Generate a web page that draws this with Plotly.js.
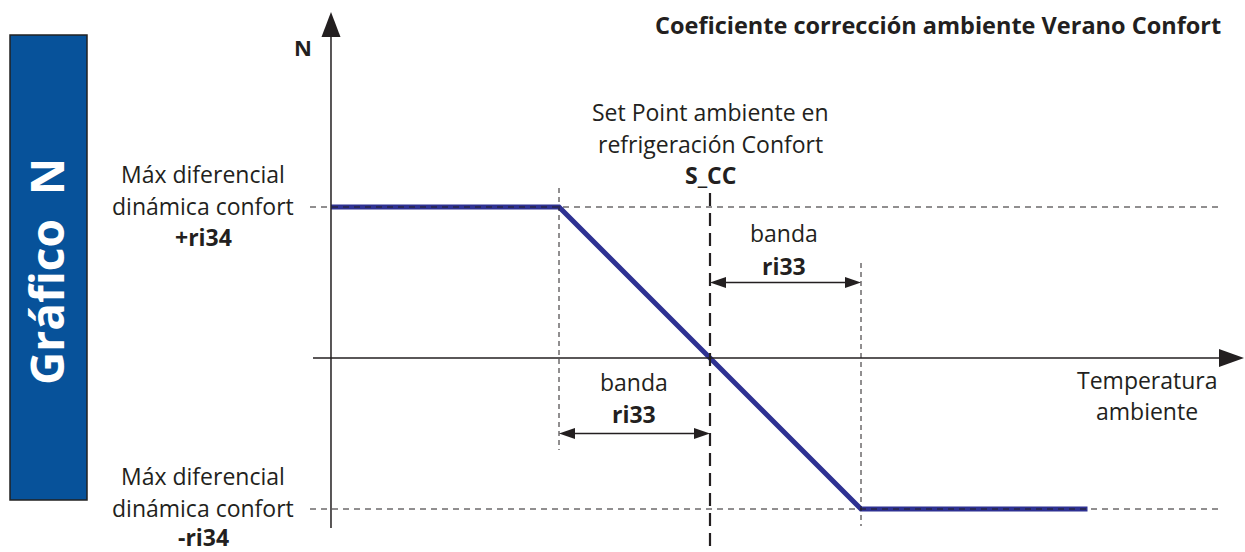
<!DOCTYPE html>
<html>
<head>
<meta charset="utf-8">
<script src="https://cdn.plot.ly/plotly-3.0.1.min.js"></script>
<style>
  body { margin: 0; background: #fff; }
  #chart { width: 1245px; height: 552px; }
</style>
</head>
<body>
<div id="chart"></div>
<script>
// units: set point S_CC at 0, band ri33 = 1, max differential ri34 = 1
var SP = 0;
var BAND = 1;
var RI34 = 1;

// N curve (temperature vs correction)
var curveX = [-2.51, -1, 1, 2.50];
var curveY = [1, 1, -1, -1];

var W = 1245, H = 552;
var PPU = 151;            // pixels per unit
var X0 = 710, Y0 = 358;   // pixel position of origin (S_CC, 0)

function ux(px) { return (px - X0) / PPU; }
function uy(py) { return (Y0 - py) / PPU; }
function len(p) { return p / PPU; }

var ink = '#231f20';
var blue = '#2e3192';

var axisX = curveX[0];

var trace = {
  x: curveX,
  y: curveY,
  mode: 'lines',
  type: 'scatter',
  line: {color: blue, width: 5},
  hoverinfo: 'skip'
};

function tri(tx, ty, dir, l, hw) {
  // filled triangle, tip at (tx,ty), dir: 'up','right','left'
  var L = len(l), h = len(hw), p;
  if (dir === 'up') p = 'M' + tx + ',' + ty + ' L' + (tx - h) + ',' + (ty - L) + ' L' + (tx + h) + ',' + (ty - L) + ' Z';
  if (dir === 'right') p = 'M' + tx + ',' + ty + ' L' + (tx - L) + ',' + (ty + h) + ' L' + (tx - L) + ',' + (ty - h) + ' Z';
  if (dir === 'left') p = 'M' + tx + ',' + ty + ' L' + (tx + L) + ',' + (ty + h) + ' L' + (tx + L) + ',' + (ty - h) + ' Z';
  return {type: 'path', xref: 'x', yref: 'y', path: p, fillcolor: ink, line: {width: 0}};
}

function seg(x0, y0, x1, y1, w, dash) {
  return {type: 'line', xref: 'x', yref: 'y', x0: x0, y0: y0, x1: x1, y1: y1,
    line: {color: ink, width: w, dash: dash || 'solid'}};
}

var yTip = uy(12), xTip = ux(1244);

var shapes = [
  // blue side box
  {type: 'rect', xref: 'paper', yref: 'paper', x0: 10 / W, x1: 87 / W, y0: 1 - 500 / H, y1: 1 - 35 / H,
    fillcolor: '#07529a', line: {color: '#222', width: 1.5}},
  // dashed levels +ri34 / -ri34
  seg(ux(310), RI34, ux(1221), RI34, 1, '6px,5px'),
  seg(ux(310), -RI34, ux(1221), -RI34, 1, '6px,5px'),
  // band limits
  seg(SP - BAND, uy(188), SP - BAND, uy(450), 1, '5px,4px'),
  seg(SP + BAND, uy(263), SP + BAND, uy(526), 1, '5px,4px'),
  // set point
  seg(SP, uy(193), SP, uy(552), 2.2, '13px,7px'),
  // axes
  seg(ux(313), 0, xTip - len(20), 0, 1.5),
  seg(axisX, uy(528), axisX, yTip - len(20), 1.5),
  tri(axisX, yTip, 'up', 25, 9.5),
  tri(xTip, 0, 'right', 25, 9),
  // band arrows
  seg(SP + len(10), 0.5, SP + BAND - len(10), 0.5, 1.3),
  tri(SP, 0.5, 'left', 16, 5.5),
  tri(SP + BAND, 0.5, 'right', 16, 5.5),
  seg(SP - BAND + len(10), -0.5, SP - len(10), -0.5, 1.3),
  tri(SP - BAND, -0.5, 'left', 16, 5.5),
  tri(SP, -0.5, 'right', 16, 5.5)
];

var F = 'Open Sans, sans-serif';
var FS = 23;
function txt(t, px, py, size, opts) {
  opts = opts || {};
  return {
    text: t, xref: 'paper', yref: 'paper', x: px / W, y: 1 - py / H,
    xanchor: opts.xanchor || 'center', yanchor: 'middle', showarrow: false,
    textangle: opts.angle || 0,
    font: {family: F, size: size, color: opts.color || ink}
  };
}

var annotations = [
  txt('<b>Gráfico  N</b>', 46, 272, 46, {angle: -90, color: '#ffffff'}),
  txt('<b>N</b>', 303, 47, 22),
  txt('<b>Coeficiente corrección ambiente Verano Confort</b>', 1223, 25, 23.5, {xanchor: 'right'}),
  txt('Set Point ambiente en', 710, 112, FS),
  txt('refrigeración Confort', 710, 144, FS),
  txt('<b>S_CC</b>', 710, 175, FS),
  txt('Máx diferencial', 203, 174, FS),
  txt('dinámica confort', 203, 206, FS),
  txt('<b>+ri34</b>', 203, 237, FS),
  txt('Máx diferencial', 203, 476, FS),
  txt('dinámica confort', 203, 508, FS),
  txt('<b>-ri34</b>', 203, 537, FS),
  txt('banda', 784, 233, FS),
  txt('<b>ri33</b>', 784, 266, FS),
  txt('banda', 634, 382, FS),
  txt('<b>ri33</b>', 634, 414, FS),
  txt('Temperatura', 1147, 380, FS),
  txt('ambiente', 1147, 411, FS)
];

var layout = {
  width: W, height: H,
  margin: {l: 0, r: 0, t: 0, b: 0},
  paper_bgcolor: '#ffffff', plot_bgcolor: '#ffffff',
  showlegend: false,
  hovermode: false,
  xaxis: {range: [ux(0), ux(W)], visible: false, fixedrange: true},
  yaxis: {range: [uy(H), uy(0)], visible: false, fixedrange: true},
  shapes: shapes,
  annotations: annotations
};

Plotly.newPlot('chart', [trace], layout, {displayModeBar: false, staticPlot: true});
</script>
</body>
</html>
